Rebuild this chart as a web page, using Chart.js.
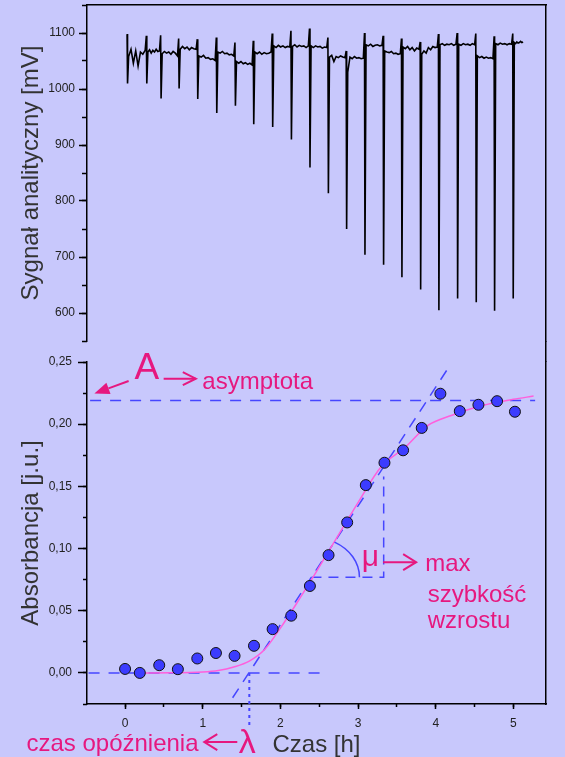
<!DOCTYPE html>
<html>
<head>
<meta charset="utf-8">
<script src="https://cdn.jsdelivr.net/npm/chart.js@4"></script>
<style>
  html, body { margin: 0; padding: 0; background: #c8c8fc; }
  #wrap { position: relative; width: 565px; height: 757px; overflow: hidden; }
  #wrap canvas { position: absolute; left: 0; top: 0; }
</style>
</head>
<body>
<div id="wrap">
  <canvas id="signalChart" width="565" height="757"></canvas>
  <canvas id="growthChart" width="565" height="757"></canvas>
</div>
<script>
// ---- top panel: analytical signal (mV) ----
var spikeTimes = [0.026, 0.274, 0.458, 0.690, 0.930, 1.175, 1.415, 1.651, 1.895, 2.136, 2.375,
                  2.612, 2.847, 3.083, 3.323, 3.559, 3.800, 4.035, 4.276, 4.516, 4.752, 4.992];
var spikeHigh = [1098, 1095, 1096, 1090, 1089, 1092, 1083, 1086, 1099, 1104, 1108,
                 1092, 1068, 1100, 1095, 1090, 1084, 1098, 1100, 1099, 1094, 1099];
var spikeLow = [1010, 1010, 983, 1001, 982, 957, 970, 937, 932, 910, 860,
                814, 750, 704, 686, 664, 642, 605, 626, 619, 604, 626];
var traceEnd = 5.14;
var baseline = [
  [1058, 1071, 1046, 1068, 1041, 1066, 1062, 1069],
  [1066, 1070, 1064, 1069, 1066, 1071, 1067, 1068],
  [1063, 1067, 1064, 1066, 1062, 1067, 1064, 1059],
  [1071, 1076, 1072, 1075, 1070, 1074, 1072, 1071],
  [1059, 1057, 1060, 1055, 1056, 1053, 1054, 1051],
  [1066, 1064, 1067, 1063, 1064, 1061, 1062, 1059],
  [1049, 1046, 1049, 1045, 1047, 1044, 1046, 1043],
  [1066, 1063, 1066, 1062, 1065, 1063, 1064, 1066],
  [1077, 1074, 1078, 1075, 1077, 1074, 1076, 1075],
  [1076, 1079, 1075, 1078, 1076, 1077, 1074, 1077],
  [1077, 1074, 1077, 1075, 1076, 1073, 1075, 1074],
  [1057, 1060, 1049, 1058, 1056, 1059, 1057, 1056],
  [1030, 1057, 1054, 1058, 1055, 1056, 1054, 1055],
  [1079, 1077, 1080, 1076, 1078, 1079, 1077, 1078],
  [1068, 1066, 1065, 1067, 1063, 1064, 1062, 1063],
  [1075, 1072, 1076, 1070, 1074, 1068, 1073, 1071],
  [1062, 1068, 1064, 1074, 1070, 1076, 1074, 1075],
  [1079, 1081, 1078, 1080, 1079, 1081, 1078, 1080],
  [1080, 1078, 1081, 1079, 1080, 1078, 1081, 1079],
  [1059, 1056, 1058, 1055, 1057, 1055, 1056, 1054],
  [1081, 1079, 1082, 1080, 1081, 1079, 1081, 1080],
  [1083, 1081, 1084, 1082, 1083, 1085, 1083, 1084]
];
var signalTicks = [600, 700, 800, 900, 1000, 1100];

// ---- bottom panel: absorbance ----
var sampleTime = [0, 0.19, 0.44, 0.68, 0.93, 1.17, 1.41, 1.66, 1.90, 2.14, 2.38,
                  2.62, 2.86, 3.10, 3.34, 3.58, 3.82, 4.06, 4.31, 4.55, 4.79, 5.02];
var absorbance = [0.0032, 0.0000, 0.0062, 0.0030, 0.0116, 0.0160, 0.0137, 0.0218, 0.0352, 0.0460, 0.0699,
                  0.0947, 0.1210, 0.1510, 0.1690, 0.1790, 0.1970, 0.2245, 0.2105, 0.2156, 0.2185, 0.2100];
var fitTime = [0.2, 0.6, 1.0, 1.2, 1.4, 1.6, 1.8, 2.0, 2.2, 2.45, 2.7, 3.0, 3.3, 3.6, 3.9, 4.2, 4.6, 5.0, 5.26];
var fitValue = [0.0000, 0.0001, 0.0008, 0.0020, 0.0048, 0.0095, 0.0190, 0.0360, 0.0550, 0.0800,
                0.1060, 0.1370, 0.1660, 0.1810, 0.1990, 0.2070, 0.2150, 0.2200, 0.2226];
var tangentTime = [1.385, 4.144], tangentValue = [-0.020, 0.2435];
var asymTime = [-0.45, 5.28], asymValue = [0.219, 0.219];
var zeroTime = [-0.47, 2.62], zeroValue = [0, 0];
var muTime = [2.40, 3.33, 3.33], muValue = [0.077, 0.077, 0.158];
var lagTime = [1.6, 1.6], lagValue = [0, -0.045];
var absTicks = [0, 0.05, 0.10, 0.15, 0.20, 0.25];
var timeTicks = [0, 1, 2, 3, 4, 5];

var ink = "#000";
var pink = "#e6187f";
var blue = "#4646ff";
var X_MIN = -0.49, X_MAX = 5.42;
var PANEL_GAP = 21;

Chart.defaults.font.family = "'Liberation Sans', Arial, sans-serif";
Chart.defaults.color = "#222";
Chart.defaults.animation = false;
Chart.defaults.events = [];
Chart.defaults.plugins.legend.display = false;
Chart.defaults.plugins.tooltip.enabled = false;

// axes get a fixed size and ask for no extra label room, so the plot box lands where the panel is
function noPad(s) { s.paddingTop = 0; s.paddingBottom = 0; s.paddingLeft = 0; s.paddingRight = 0; }
function fixWidth(w) { return function (s) { s.width = w; noPad(s); }; }
function fixHeight(h) { return function (s) { s.height = h; noPad(s); }; }
function useTicks(list) { return function (s) { s.ticks = list.map(function (v) { return { value: v }; }); }; }
function pairs(xs, ys) { return xs.map(function (x, i) { return { x: x, y: ys[i] }; }); }
function frame() { return { display: true, color: ink, width: 1.5 }; }
function tickGrid(len) { return { drawOnChartArea: false, tickLength: len, tickColor: ink, tickWidth: 1.5 }; }

var tracePoints = [];
spikeTimes.forEach(function (t, i) {
  var next = i + 1 < spikeTimes.length ? spikeTimes[i + 1] : traceEnd;
  var vals = baseline[i];
  var t0 = t + 0.02, t1 = next - 0.015;
  tracePoints.push({ x: t, y: spikeHigh[i] });
  tracePoints.push({ x: t + 0.006, y: spikeLow[i] });
  vals.forEach(function (v, k) {
    tracePoints.push({ x: t0 + (t1 - t0) * k / (vals.length - 1), y: v });
  });
});

new Chart(document.getElementById("signalChart").getContext("2d"), {
  type: "scatter",
  data: {
    datasets: [{
      data: tracePoints,
      showLine: true,
      pointRadius: 0,
      borderColor: ink,
      borderWidth: 1.6,
      xAxisID: "x",
      yAxisID: "y"
    }]
  },
  options: {
    responsive: false,
    layout: { padding: { top: 5, right: 19, bottom: 757 - 341, left: 0 } },
    scales: {
      x: {
        type: "linear", position: "top", min: X_MIN, max: X_MAX,
        ticks: { display: false }, grid: { display: false },
        border: frame(), afterFit: fixHeight(0)
      },
      y: {
        type: "linear", position: "left", weight: 1, min: 550, max: 1150,
        afterBuildTicks: useTicks(signalTicks),
        ticks: { padding: 4, font: { size: 12 }, color: "#222", callback: function (v) { return String(v); } },
        grid: tickGrid(8),
        border: frame(),
        title: { display: true, text: "Sygnał analityczny [mV]", color: "#333",
                 font: { size: 24 }, padding: { top: 17, bottom: 0 } },
        afterFit: fixWidth(87)
      },
      yMinor: {
        type: "linear", position: "left", weight: 0, min: 550, max: 1150,
        ticks: { display: false, stepSize: 50 }, grid: tickGrid(5),
        border: { display: false }, afterFit: fixWidth(0)
      },
      yRight: {
        type: "linear", position: "right", min: 550, max: 1150,
        ticks: { display: false }, grid: { display: false },
        border: frame(), afterFit: fixWidth(0)
      }
    }
  }
});

// joins the right frame across the gap between panels
var gapLine = {
  id: "gapLine",
  afterDraw: function (chart) {
    var a = chart.chartArea, c = chart.ctx;
    var x = Math.round(a.right - 0.75) + 0.75;
    c.save();
    c.strokeStyle = ink;
    c.lineWidth = 1.5;
    c.beginPath();
    c.moveTo(x, a.top - PANEL_GAP);
    c.lineTo(x, a.top);
    c.stroke();
    c.restore();
  }
};

var notes = {
  id: "notes",
  afterDraw: function (chart) {
    var c = chart.ctx, sx = chart.scales.x, sy = chart.scales.y;
    function P(t, v) { return [sx.getPixelForValue(t), sy.getPixelForValue(v)]; }
    function text(s, t, v, size) {
      var p = P(t, v);
      c.font = size + "px 'Liberation Sans', Arial, sans-serif";
      c.fillText(s, p[0], p[1]);
    }
    function arrow(from, to, len, half, filled) {
      var a = P(from[0], from[1]), b = P(to[0], to[1]);
      var ang = Math.atan2(b[1] - a[1], b[0] - a[0]);
      var bx = b[0] - len * Math.cos(ang), by = b[1] - len * Math.sin(ang);
      var nx = -Math.sin(ang) * half, ny = Math.cos(ang) * half;
      c.beginPath();
      c.moveTo(a[0], a[1]);
      c.lineTo(filled ? bx : b[0], filled ? by : b[1]);
      c.stroke();
      c.beginPath();
      c.moveTo(bx + nx, by + ny);
      c.lineTo(b[0], b[1]);
      c.lineTo(bx - nx, by - ny);
      if (filled) { c.closePath(); c.fill(); } else { c.stroke(); }
    }
    c.save();
    // angle mark for mu
    var m = P(muTime[0], muValue[0]);
    c.strokeStyle = blue;
    c.lineWidth = 1.5;
    c.beginPath();
    c.ellipse(m[0], m[1], 48, 40, 0, -1.07, 0);
    c.stroke();

    c.fillStyle = pink;
    c.strokeStyle = pink;
    c.lineWidth = 2;
    c.textAlign = "left";
    c.textBaseline = "alphabetic";
    text("A", 0.12, 0.236, 37);
    text("asymptota", 0.995, 0.2284, 24);
    text("\u03bc", 3.047, 0.086, 30);
    text("max", 3.864, 0.0816, 24);
    text("szybkość", 3.896, 0.0574, 24);
    text("wzrostu", 3.896, 0.036, 24);
    text("czas opóźnienia", -1.27, -0.0631, 24);
    text("\u03bb", 1.464, -0.064, 34);
    arrow([0.046, 0.2347], [-0.395, 0.2247], 15, 6, true);
    arrow([0.497, 0.2366], [0.911, 0.2366], 13, 6.5, false);
    arrow([3.323, 0.089], [3.748, 0.089], 13, 8, false);
    arrow([1.445, -0.0556], [1.02, -0.0556], 13, 8, false);
    c.restore();
  }
};

function dashed(xs, ys, dash) {
  return {
    data: pairs(xs, ys), showLine: true, pointRadius: 0,
    borderColor: blue, borderWidth: 1.5, borderDash: dash,
    xAxisID: "x", yAxisID: "y"
  };
}

var lagLine = dashed(lagTime, lagValue, [3, 4]);
lagLine.clip = false;
lagLine.borderWidth = 2;

new Chart(document.getElementById("growthChart").getContext("2d"), {
  type: "scatter",
  data: {
    datasets: [
      {
        data: pairs(sampleTime, absorbance),
        pointRadius: 5.5,
        pointBackgroundColor: "#3c3cff",
        pointBorderColor: "#111",
        pointBorderWidth: 1,
        xAxisID: "x", yAxisID: "y"
      },
      {
        data: pairs(fitTime, fitValue), showLine: true, pointRadius: 0,
        borderColor: "#ff5fdc", borderWidth: 1.5, cubicInterpolationMode: "monotone",
        xAxisID: "x", yAxisID: "y"
      },
      dashed(tangentTime, tangentValue, [11, 8]),
      dashed(asymTime, asymValue, [11, 9]),
      dashed(zeroTime, zeroValue, [11, 9]),
      dashed(muTime, muValue, [10, 7]),
      lagLine
    ]
  },
  plugins: [gapLine, notes],
  options: {
    responsive: false,
    layout: { padding: { top: 362, right: 19, bottom: 0, left: 0 } },
    scales: {
      x: {
        type: "linear", position: "bottom", weight: 1, min: X_MIN, max: X_MAX,
        afterBuildTicks: useTicks(timeTicks),
        ticks: { padding: 7, font: { size: 12 }, color: "#222", autoSkip: false,
                 callback: function (v) { return String(v); } },
        grid: tickGrid(5),
        border: frame(),
        title: { display: true, text: "Czas [h]", color: "#333",
                 font: { size: 24, lineHeight: 1 }, padding: { top: 0, bottom: 0 } },
        afterFit: fixHeight(757 - 704)
      },
      xMinor: {
        type: "linear", position: "bottom", weight: 0, min: X_MIN, max: X_MAX,
        ticks: { display: false, stepSize: 0.5, includeBounds: false }, grid: tickGrid(3),
        border: { display: false }, afterFit: fixHeight(0)
      },
      y: {
        type: "linear", position: "left", weight: 1, min: -0.025, max: 0.25,
        afterBuildTicks: useTicks(absTicks),
        ticks: { padding: 6, font: { size: 12 }, color: "#222",
                 callback: function (v) { return v.toFixed(2).replace(".", ","); } },
        grid: tickGrid(9),
        border: frame(),
        title: { display: true, text: "Absorbancja [j.u.]", color: "#333",
                 font: { size: 24 }, padding: { top: 17, bottom: 0 } },
        afterFit: fixWidth(87)
      },
      yMinor: {
        type: "linear", position: "left", weight: 0, min: -0.025, max: 0.25,
        ticks: { display: false, stepSize: 0.025 }, grid: tickGrid(4),
        border: { display: false }, afterFit: fixWidth(0)
      },
      yRight: {
        type: "linear", position: "right", min: -0.025, max: 0.25,
        ticks: { display: false }, grid: { display: false },
        border: frame(), afterFit: fixWidth(0)
      }
    }
  }
});
</script>
</body>
</html>
